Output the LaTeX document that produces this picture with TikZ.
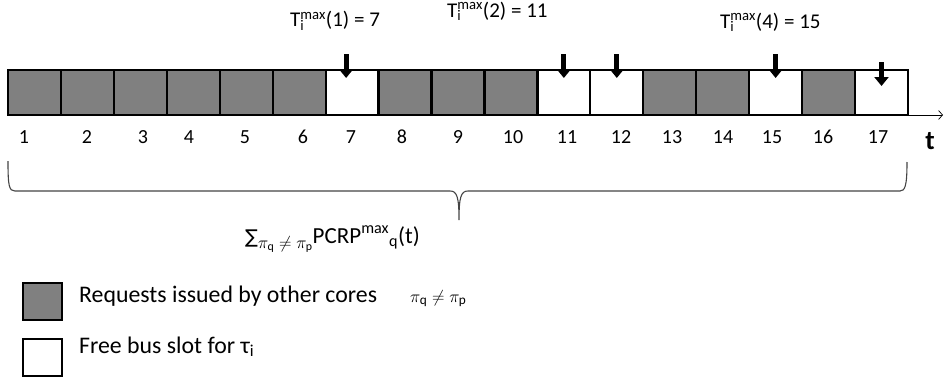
\documentclass[tikz,border=0pt]{standalone}
\usepackage{fontspec}
\setmainfont{Carlito}
\newfontfamily\symfont{DejaVu Sans}
\usetikzlibrary{arrows.meta}
\definecolor{busygray}{HTML}{808080}
\definecolor{bracegray}{HTML}{444444}
\tikzset{
  slot/.style={draw=black, line width=2.2pt, minimum width=52.94pt, minimum height=45pt, inner sep=0pt, outer sep=0pt},
  busy/.style={slot, fill=busygray},
  free/.style={slot, fill=white},
  drop/.style={line width=5pt, -{Triangle[width=14pt,length=9pt]}},
  num/.style={font=\fontsize{20}{24}\selectfont, inner sep=0pt},
  tlabel/.style={font=\fontsize{21}{25}\selectfont, anchor=base west, inner sep=0pt},
  legtext/.style={font=\fontsize{23.8}{28}\selectfont, anchor=base west, inner sep=0pt},
}
\begin{document}
\begin{tikzpicture}[x=1pt,y=-1pt]
  \useasboundingbox (0,0) rectangle (944,380);
  % time axis under the slots
  \coordinate (tend) at (943,115);
  \draw[line width=0.7pt, -{Straight Barb[length=4pt,width=9pt]}] (908,115) -- (tend);
  % bus slots
  \foreach \i/\kind in {1/busy,2/busy,3/busy,4/busy,5/busy,6/busy,7/free,8/busy,9/busy,
                        10/busy,11/free,12/free,13/busy,14/busy,15/free,16/busy,17/free}
    \node[\kind] (s\i) at ({34.47+52.94*(\i-1)},92.5) {};
  % slot numbers
  \foreach \n/\x in {1/24,2/87,3/143,4/189,5/245,6/303,7/351,8/402,9/458,10/513,
                     11/567,12/621,13/672,14/723,15/772,16/823,17/878}
    \node[num] (n\n) at (\x,137) {\n};
  \node[font=\fontsize{27}{30}\selectfont\bfseries, inner sep=0pt] (tax) at (930,141) {t};
  % requests of task i
  \draw[drop] ([xshift=-6pt,yshift=16pt]s7.north) -- ([xshift=-6pt,yshift=-8pt]s7.north);
  \foreach \i in {11,12,15}
    \draw[drop] ([yshift=16pt]s\i.north) -- ([yshift=-8pt]s\i.north);
  \draw[drop] ([yshift=8pt]s17.north) -- ([yshift=-16pt]s17.north);
  \node[tlabel] (t1) at (290,27) {T\rlap{\textsubscript{i}}\textsuperscript{max}(1) = 7};
  \node[tlabel] (t2) at (447,17) {T\rlap{\textsubscript{i}}\textsuperscript{max}(2) = 11};
  \node[tlabel] (t4) at (720,28) {T\rlap{\textsubscript{i}}\textsuperscript{max}(4) = 15};
  % brace over all slots
  \draw[bracegray, line width=1.1pt]
    (8,161) .. controls (8,186) and (9,191) .. (15,191) -- (450,191)
    .. controls (457,191) and (459,197) .. (459,220)
    .. controls (459,197) and (461,191) .. (468,191) -- (900,191)
    .. controls (905,191) and (907,186) .. (907,162);
  \node[legtext, font=\fontsize{23}{27}\selectfont] (sum) at (245,243)
    {{\symfont\fontsize{19}{22}\selectfont ∑}\raisebox{-5pt}{\fontsize{17}{20}\selectfont$\pi_{\mathrm{q}}\neq\pi_{\mathrm{p}}$}PCRP\textsuperscript{max}\textsubscript{q}(t)};
  % legend
  \node[busy, line width=2.4pt, minimum width=39pt, minimum height=37pt] (lg1) at (42.5,301.5) {};
  \node[free, line width=2.4pt, minimum width=39pt, minimum height=37pt] (lg2) at (42.5,357.5) {};
  \node[legtext] (lt1) at (79,302) {Requests issued by other cores};
  \node[legtext, font=\fontsize{19}{23}\selectfont] (lt1b) at (410,302) {$\pi_{\mathrm{q}}\neq\pi_{\mathrm{p}}$};
  \node[legtext] (lt2) at (79,353) {Free bus slot for τ\textsubscript{i}};
\end{tikzpicture}
\end{document}
